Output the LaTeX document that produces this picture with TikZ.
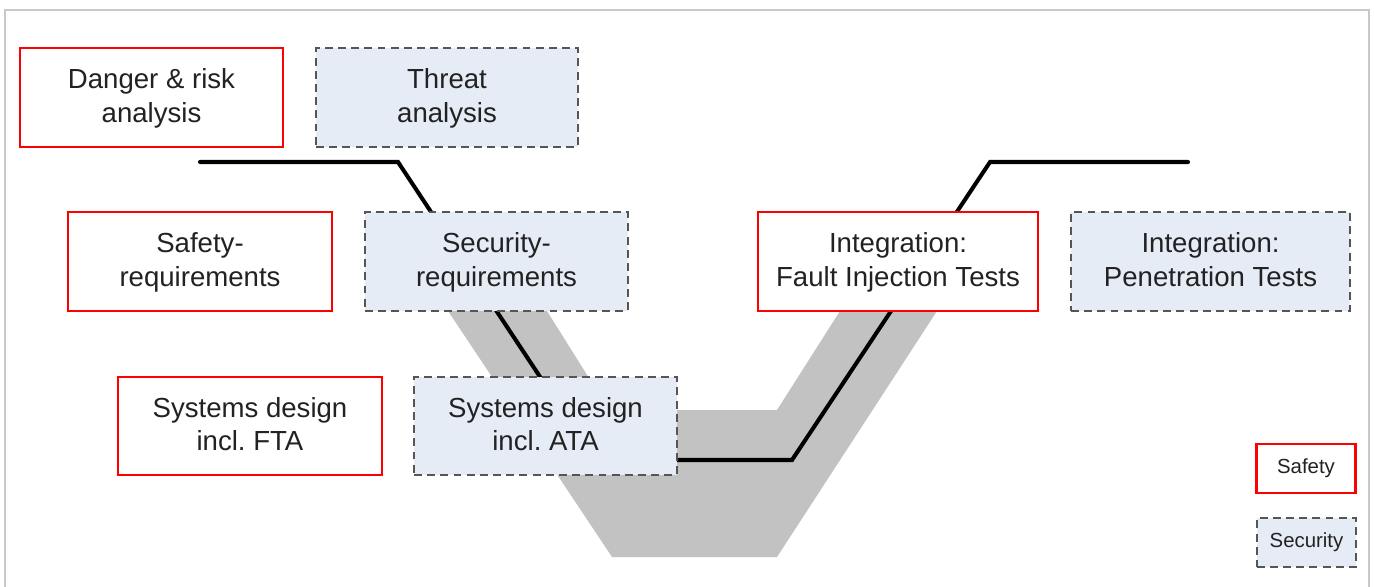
\documentclass[tikz,border=0pt]{standalone}
\usepackage{fontspec}
\setmainfont{Liberation Sans}
\frenchspacing
\usetikzlibrary{positioning}
\definecolor{secblue}{RGB}{230,236,246}
\definecolor{vgray}{RGB}{194,194,194}
\definecolor{framegray}{RGB}{200,200,200}
\definecolor{dashgray}{RGB}{85,85,85}
\definecolor{textdark}{RGB}{34,34,34}
\tikzset{
  safebox/.style={draw=red, line width=1.6pt, fill=white, minimum width=5.26cm, minimum height=1.98cm, inner sep=0pt, text depth=0.22em, align=center, text=textdark},
  secbox/.style={draw=dashgray, line width=1.1pt, dash pattern=on 4.5pt off 3pt, fill=secblue, minimum width=5.26cm, minimum height=1.98cm, inner sep=0pt, text depth=0.22em, align=center, text=textdark},
  keybox/.style={minimum width=1.99cm, minimum height=0.98cm, font=\fontsize{11.6}{14}\selectfont},
  vline/.style={line width=2.3pt, line cap=round, line join=miter}
}

\begin{document}
\begin{tikzpicture}[x=0.02cm, y=-0.02cm, every node/.style={font=\fontsize{15.7}{19}\selectfont}]
  \useasboundingbox (0,0) rectangle (1375,587);
  \draw[framegray, line width=1.1pt] (5,600) -- (5,10) -- (1369,10) -- (1369,600);
  \fill[vgray] (448,311) -- (612,557) -- (777,557) -- (937,311) -- (840,311) -- (777,410) -- (609,410) -- (547,311) -- cycle;
  \draw[vline] (200,162) -- (398,162) -- (595,460) -- (792,460) -- (990,162) -- (1188,162);
  \node[safebox] (danger) at (151.5,97.5) {Danger \& risk\\analysis};
  \node[secbox, minimum width=5.24cm] (threat) at (447,97.5) {Threat\\analysis};
  \node[safebox, minimum width=5.28cm] (safereq) at (200,261.5) {Safety-\\requirements};
  \node[secbox] (secreq) at (496.5,261.5) {Security-\\requirements};
  \node[safebox, minimum width=5.28cm, minimum height=1.96cm] (fta) at (250,426) {Systems design\\incl. FTA};
  \node[secbox, minimum height=1.96cm] (ata) at (545.5,426) {Systems design\\incl. ATA};
  \node[safebox, minimum width=5.6cm] (faultinj) at (898,261.5) {Integration:\\Fault Injection Tests};
  \node[secbox, minimum width=5.58cm] (pentest) at (1210.5,261.5) {Integration:\\Penetration Tests};
  \node[safebox, keybox] (keysafe) at (1306,468.5) {Safety};
  \node[secbox, keybox] (keysec) at (1306.5,542.5) {Security};
\end{tikzpicture}
\end{document}
